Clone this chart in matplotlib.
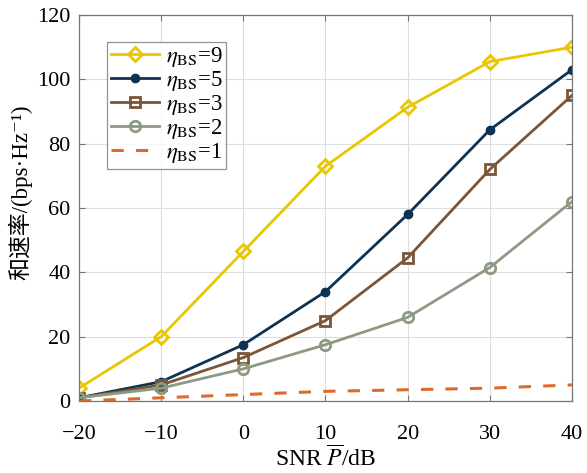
import matplotlib
matplotlib.use("Agg")
import matplotlib.pyplot as plt

snr = [-20, -10, 0, 10, 20, 30, 40]
eta9 = [4, 20, 46.5, 73, 91.3, 105.5, 110]
eta5 = [1, 6, 17.5, 34, 58, 84.3, 103]
eta3 = [1, 5, 13.5, 25, 44.5, 72, 95]
eta2 = [1, 4, 10, 17.5, 26, 41.5, 62]
eta1 = [0, 1, 2, 3, 3.5, 4, 5]
xticks = [-20, -10, 0, 10, 20, 30, 40]
yticks = [0, 20, 40, 60, 80, 100, 120]

plt.rcParams['font.family'] = ['Liberation Serif', 'Noto Sans CJK SC', 'DejaVu Serif']
plt.rcParams['mathtext.fontset'] = 'stix'
plt.rcParams['axes.unicode_minus'] = True

fig = plt.figure(figsize=(5.87, 4.73), dpi=100)
ax = fig.add_axes([0.1346, 0.1522, 0.8398, 0.8161])

lw = 2.0
ax.plot(snr, eta9, color='#E8C600', lw=lw, marker='D', ms=7, mfc='none', mew=2,
        label=r'$\eta_{\mathrm{BS}}$=9')
ax.plot(snr, eta5, color='#0E3352', lw=lw, marker='o', ms=6,
        label=r'$\eta_{\mathrm{BS}}$=5')
ax.plot(snr, eta3, color='#7B5535', lw=lw, marker='s', ms=7, mfc='none', mew=2,
        label=r'$\eta_{\mathrm{BS}}$=3')
ax.plot(snr, eta2, color='#8C9A84', lw=lw, marker='o', ms=7.5, mfc='none', mew=2,
        label=r'$\eta_{\mathrm{BS}}$=2')
ax.plot(snr, eta1, color='#DE6A2A', lw=2.2, ls=(0, (4, 4)),
        label=r'$\eta_{\mathrm{BS}}$=1')

ax.set_xlim(-20, 40)
ax.set_ylim(0, 120)
ax.set_xticks(xticks)
ax.set_yticks(yticks)
ax.grid(True, color='#DDDDDD', lw=0.8)
ax.set_axisbelow(True)
for s in ax.spines.values():
    s.set_color('#777777')
    s.set_linewidth(0.9)
ax.tick_params(direction='in', top=True, right=True, labelsize=16, color='#777777',
               length=4)
ax.tick_params(axis='y', pad=6)
ax.tick_params(axis='x', pad=17)

ax.set_xlabel(r'SNR $\overline{P}$/dB', fontsize=17, labelpad=1)
ax.set_ylabel('和速率/(bps·Hz⁻¹)', fontsize=16.5)
ax.yaxis.set_label_coords(-0.095, 0.54)

leg = ax.legend(loc='upper left', bbox_to_anchor=(0.057, 0.93), borderaxespad=0,
                fontsize=16.5, frameon=True, fancybox=False, edgecolor='#777777',
                handlelength=2.1, labelspacing=0.0, borderpad=0.15, handletextpad=0.3)
leg.get_frame().set_linewidth(0.9)

fig.savefig('out.png', dpi=100)
